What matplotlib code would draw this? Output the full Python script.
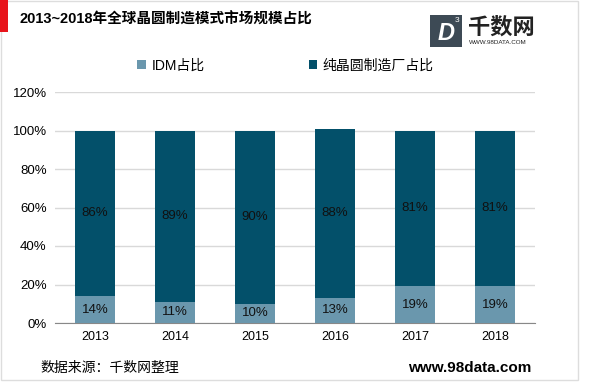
import matplotlib
matplotlib.use("Agg")
import matplotlib.pyplot as plt
from matplotlib.patches import Rectangle
import numpy as np

plt.rcParams['font.family'] = ['Liberation Sans', 'Noto Sans CJK SC', 'DejaVu Sans']

years = ['2013', '2014', '2015', '2016', '2017', '2018']
idm = [14, 11, 10, 13, 19, 19]
foundry = [86, 89, 90, 88, 81, 81]
yticks = [0, 20, 40, 60, 80, 100, 120]

c_idm = '#6A97AD'
c_fd = '#03506A'

fig = plt.figure(figsize=(6.0, 3.85), dpi=100)
ax = fig.add_axes([55/600, 62/385, 480/600, 231/385])

x = np.arange(len(years))
ax.bar(x, idm, width=0.5, color=c_idm, label='IDM占比', zorder=3)
ax.bar(x, foundry, width=0.5, bottom=idm, color=c_fd, label='纯晶圆制造厂占比', zorder=3)

for i in range(len(years)):
    ax.text(x[i], idm[i] / 2, f'{idm[i]}%', ha='center', va='center', fontsize=9.5, color='#111111', zorder=4)
    ax.text(x[i], idm[i] + foundry[i] / 2, f'{foundry[i]}%', ha='center', va='center', fontsize=9.5, color='#111111', zorder=4)

ax.set_xlim(-0.5, len(years) - 0.5)
ax.set_ylim(0, 120)
ax.set_yticks(yticks)
ax.set_yticklabels([f'{v}%' for v in yticks], fontsize=9.5)
ax.set_xticks(x)
ax.set_xticklabels(years, fontsize=9)
ax.yaxis.grid(True, color='#D9D9D9', linewidth=1, zorder=0)
for s in ['top', 'right', 'left']:
    ax.spines[s].set_visible(False)
ax.spines['bottom'].set_color('#888888')
ax.tick_params(axis='both', length=0, pad=6)

ax.legend(loc='lower center', bbox_to_anchor=(0.48, 1.03), ncol=2, frameon=False,
          fontsize=10, handlelength=0.6, handleheight=0.6, columnspacing=7.5, handletextpad=0.4)

# frame and decorations
fig.patches.append(Rectangle((1/600, 5/385), 577/600, 379/385, transform=fig.transFigure,
                             fill=False, edgecolor='#DDDDDD', linewidth=1))
fig.patches.append(Rectangle((0, 353/385), 8/600, 32/385, transform=fig.transFigure,
                             facecolor='#E8141B', edgecolor='none'))
fig.text(20/600, 1 - 20/385, '2013~2018年全球晶圆制造模式市场规模占比', fontsize=10.5, fontweight='bold',
         va='center', ha='left')

# logo
fig.patches.append(Rectangle((430/600, 1 - 47/385), 32/600, 32/385, transform=fig.transFigure,
                             facecolor='#3D4A55', edgecolor='none'))
fig.text(446/600, 1 - 33/385, 'D', fontsize=17, fontweight='bold', fontstyle='italic', color='white',
         ha='center', va='center')
fig.text(457/600, 1 - 20/385, '3', fontsize=6, color='white', ha='center', va='center')
fig.text(468/600, 1 - 28/385, '千数网', fontsize=16, fontweight='bold', color='#222222',
         ha='left', va='center')
fig.text(469/600, 1 - 43/385, 'WWW.98DATA.COM', fontsize=4.5, color='#222222', ha='left', va='center')

# footer
fig.text(40/600, 1 - 368/385, '数据来源：千数网整理', fontsize=10, ha='left', va='center')
fig.text(531/600, 1 - 368/385, 'www.98data.com', fontsize=11, fontweight='bold', ha='right', va='center')

fig.savefig('out.png', dpi=100)
